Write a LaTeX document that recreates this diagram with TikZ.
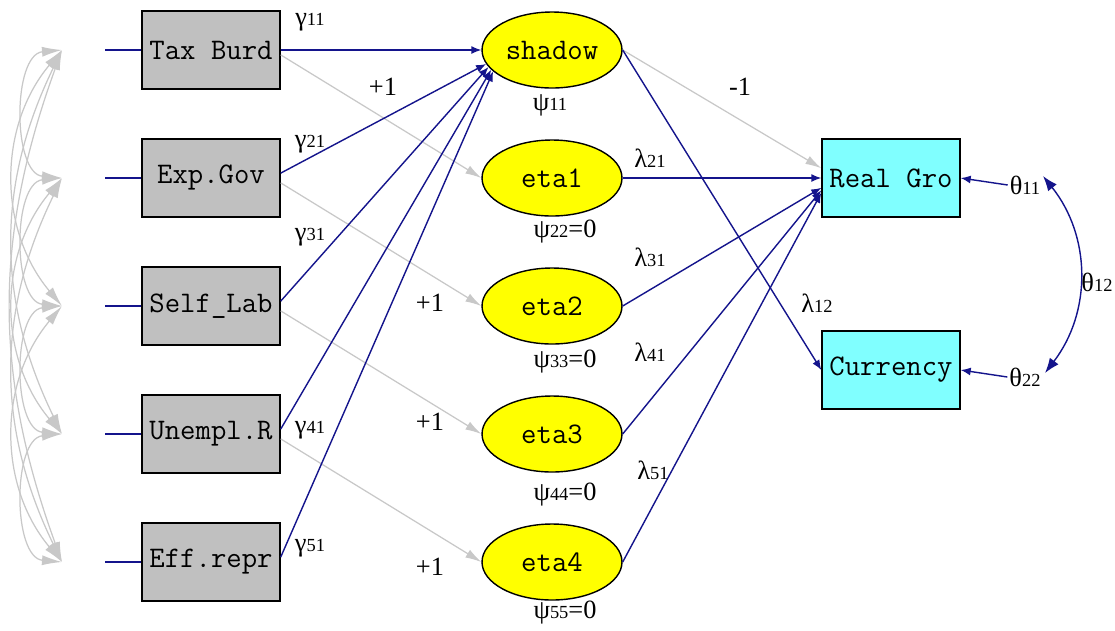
\documentclass[tikz,border=0pt]{standalone}
\usepackage{fontspec}
\setmainfont{Liberation Serif}
\usepackage{tikz}
\usetikzlibrary{positioning}
\usetikzlibrary{arrows.meta}
\usetikzlibrary{shapes.geometric}

\definecolor{navyline}{RGB}{20,20,140}
\definecolor{fixgray}{RGB}{200,200,200}
\definecolor{boxgray}{RGB}{192,192,192}
\definecolor{indcyan}{RGB}{128,255,255}
\definecolor{latyellow}{RGB}{255,255,0}

% parameter label: symbol with small subscript on the baseline
\newcommand{\prm}[2]{#1{\fontsize{10.5}{10}\selectfont #2}}

\begin{document}
\begin{tikzpicture}[x=0.02cm, y=-0.02cm,
obs/.style={
  rectangle,
  draw=black,
  line width=0.8pt,
  fill=boxgray,
  minimum width=2.76cm,
  minimum height=1.56cm,
  inner sep=0pt,
  font=\ttfamily\fontsize{17}{20}\selectfont
},
lat/.style={
  ellipse,
  draw=black,
  line width=0.8pt,
  fill=latyellow,
  minimum width=2.8cm,
  minimum height=1.52cm,
  inner sep=0pt,
  font=\ttfamily\fontsize{17}{20}\selectfont
},
ind/.style={obs, fill=indcyan},
lbl/.style={font=\fontsize{15}{17}\selectfont, inner sep=1pt},
freepar/.style={-{Latex[length=0.2cm, width=0.16cm]}, navyline, line width=0.8pt},
errline/.style={navyline, line width=0.8pt},
fixpar/.style={-{Latex[length=0.32cm, width=0.18cm]}, fixgray, line width=0.7pt},
covpar/.style={{Latex[length=0.4cm, width=0.2cm]}-{Latex[length=0.4cm, width=0.2cm]}, fixgray, line width=0.7pt},
errcov/.style={{Latex[length=0.3cm, width=0.22cm]}-{Latex[length=0.3cm, width=0.22cm]}, navyline, line width=0.8pt}
]

\useasboundingbox[fill=white] (0,0) rectangle (1115,630);

% ---- exogenous observed ----
\node[obs] (tax) at (211, 50) {Tax Burd};
\node[obs] (expgov) at (211,178) {Exp.Gov};
\node[obs] (selflab) at (211,306) {Self\_Lab};
\node[obs] (unempl) at (211,434) {Unempl.R};
\node[obs] (effrepr) at (211,562) {Eff.repr};

\coordinate (d1) at (105, 50);
\coordinate (d2) at (105,178);
\coordinate (d3) at (105,306);
\coordinate (d4) at (105,434);
\coordinate (d5) at (105,562);

\draw[errline] (d1) -- (tax);
\draw[errline] (d2) -- (expgov);
\draw[errline] (d3) -- (selflab);
\draw[errline] (d4) -- (unempl);
\draw[errline] (d5) -- (effrepr);

% ---- covariances among exogenous ----
\coordinate (v1) at (62, 50);
\coordinate (v2) at (62,178);
\coordinate (v3) at (62,306);
\coordinate (v4) at (62,434);
\coordinate (v5) at (62,562);

\draw[covpar] (v1) to[bend right=85] (v2);
\draw[covpar] (v2) to[bend right=85] (v3);
\draw[covpar] (v3) to[bend right=85] (v4);
\draw[covpar] (v4) to[bend right=85] (v5);
\draw[covpar] (v1) to[bend right=40] (v3);
\draw[covpar] (v2) to[bend right=40] (v4);
\draw[covpar] (v3) to[bend right=40] (v5);
\draw[covpar] (v1) to[bend right=26] (v4);
\draw[covpar] (v2) to[bend right=26] (v5);
\draw[covpar] (v1) to[bend right=20] (v5);

% ---- latent ----
\node[lat] (shadow) at (552, 50) {shadow};
\node[lat] (eta1) at (552,178) {eta1};
\node[lat] (eta2) at (552,306) {eta2};
\node[lat] (eta3) at (552,434) {eta3};
\node[lat] (eta4) at (552,562) {eta4};

% ---- indicators ----
\node[ind] (realgro) at (891,178) {Real Gro};
\node[ind] (currency) at (891,370) {Currency};

% ---- paths into latent ----
\draw[fixpar] (tax.-4) -- (eta1.west);
\draw[fixpar] (expgov.-4) -- (eta2.west);
\draw[fixpar] (selflab.-4) -- (eta3.west);
\draw[fixpar] (unempl.-4) -- (eta4.west);

\draw[freepar] (tax.east) -- (shadow.west);
\draw[freepar] (expgov.4) -- (shadow.192);
\draw[freepar] (selflab.4) -- (shadow.195);
\draw[freepar] (unempl.4) -- (shadow.198);
\draw[freepar] (effrepr.4) -- (shadow.200);

% ---- loadings ----
\draw[fixpar] (shadow.east) -- (realgro.172);
\draw[freepar] (shadow.east) -- (currency.west);
\draw[freepar] (eta1.east) -- (realgro.west);
\draw[freepar] (eta2.east) -- (realgro.188);
\draw[freepar] (eta3.east) -- (realgro.190);
\draw[freepar] (eta4.east) -- (realgro.192);

% ---- errors of indicators ----
\node[lbl] (th11) at (1025,185) {\prm{θ}{11}};
\node[lbl] (th22) at (1025,377) {\prm{θ}{22}};
\draw[freepar] (th11.west) -- (realgro.east);
\draw[freepar] (th22.west) -- (currency.east);

\coordinate (e1) at (1043,176);
\coordinate (e2) at (1045,373);
\draw[errcov] (e1) to[bend left=38] (e2);
\node[lbl] (th12) at (1097,282) {\prm{θ}{12}};

% ---- labels ----
\node[lbl] at (310, 22) {\prm{γ}{11}};
\node[lbl] at (310,144) {\prm{γ}{21}};
\node[lbl] at (310,237) {\prm{γ}{31}};
\node[lbl] at (310,430) {\prm{γ}{41}};
\node[lbl] at (310,548) {\prm{γ}{51}};

\node[lbl] at (383, 87) {+1};
\node[lbl] at (430,303) {+1};
\node[lbl] at (430,422) {+1};
\node[lbl] at (430,567) {+1};

\node[lbl] at (550,105) {\prm{ψ}{11}};
\node[lbl] at (565,232) {\prm{ψ}{22}=0};
\node[lbl] at (565,362) {\prm{ψ}{33}=0};
\node[lbl] at (565,495) {\prm{ψ}{44}=0};
\node[lbl] at (565,613) {\prm{ψ}{55}=0};

\node[lbl] at (740, 87) {-1};
\node[lbl] at (650,158) {\prm{λ}{21}};
\node[lbl] at (650,257) {\prm{λ}{31}};
\node[lbl] at (650,352) {\prm{λ}{41}};
\node[lbl] at (653,470) {\prm{λ}{51}};
\node[lbl] at (817,303) {\prm{λ}{12}};

\end{tikzpicture}
\end{document}
